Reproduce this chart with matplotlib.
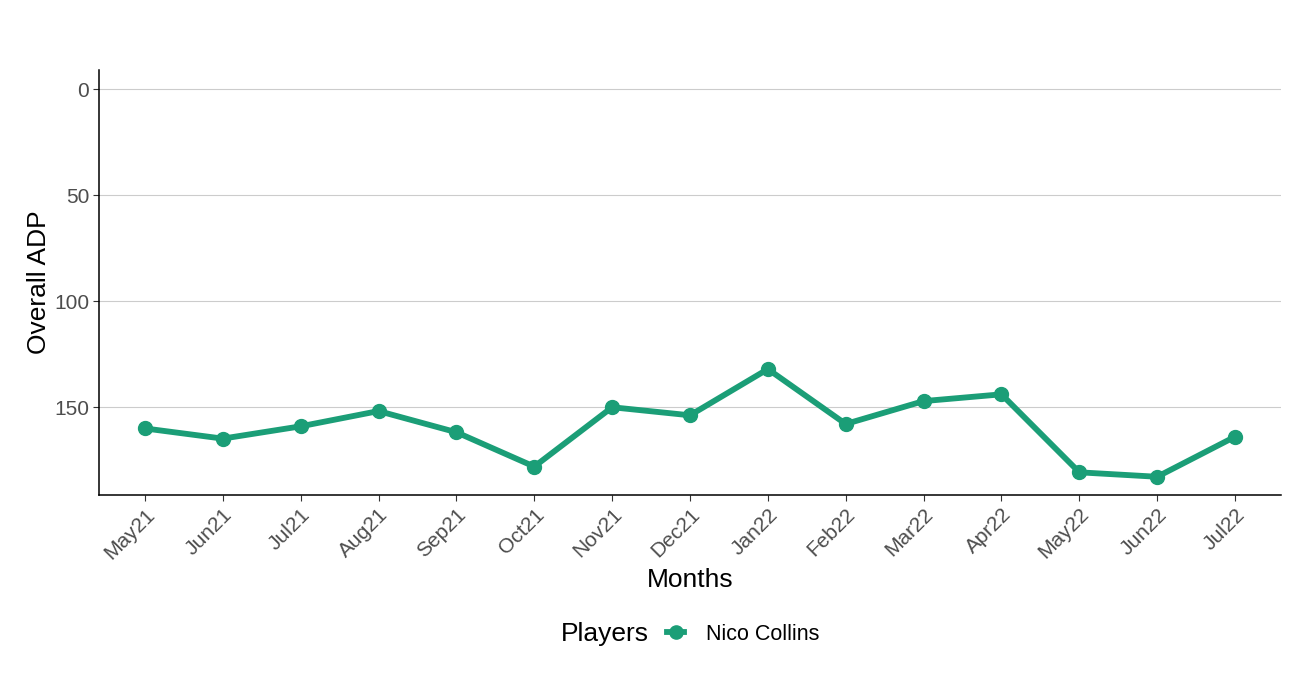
import matplotlib
matplotlib.use("Agg")
import matplotlib.pyplot as plt
import numpy as np

plt.rcParams['font.family'] = ['Liberation Sans', 'DejaVu Sans']

months = ["May21", "Jun21", "Jul21", "Aug21", "Sep21", "Oct21", "Nov21", "Dec21",
          "Jan22", "Feb22", "Mar22", "Apr22", "May22", "Jun22", "Jul22"]
adp = [160.1, 164.9, 159.1, 151.9, 161.9, 178.1, 150.1, 153.9,
       132.1, 158.0, 147.2, 144.0, 180.8, 182.9, 164.0]
player = "Nico Collins"
yticks = [0, 50, 100, 150]

col = "#1B9E77"
tick_col = "#4D4D4D"

fig = plt.figure(figsize=(13.01, 6.93), dpi=100)
ax = fig.add_axes([99 / 1301, 1 - 495 / 693, (1281 - 99) / 1301, (495 - 70) / 693])

x = np.arange(len(months))
line, = ax.plot(x, adp, color=col, lw=4.2, marker="o", ms=10, label=player)

ax.set_xlim(-0.59, len(months) - 1 + 0.59)
ax.set_ylim(191.5, -9)
ax.set_yticks(yticks)
ax.set_xticks(x)
ax.set_xticklabels(months, rotation=45, ha="right", rotation_mode="anchor")

ax.grid(axis="y", color="#CCCCCC", lw=0.8)
ax.set_axisbelow(True)
for s in ["top", "right"]:
    ax.spines[s].set_visible(False)
for s in ["left", "bottom"]:
    ax.spines[s].set_linewidth(1.1)
    ax.spines[s].set_color("black")

ax.tick_params(axis="both", colors="#333333", labelcolor=tick_col, labelsize=15,
               length=4, width=0.8, pad=3)

ax.set_xlabel("Months", fontsize=19, labelpad=4)
ax.set_ylabel("Overall ADP", fontsize=19, labelpad=2)

# legend: title on the left, entry to the right (ggplot bottom style)
fig.text(561 / 1301, 1 - 634 / 693, "Players", fontsize=19, va="center", ha="left")
fig.legend(handles=[line], labels=[player], loc="center left",
           bbox_to_anchor=(667 / 1301, 1 - 634 / 693), frameon=False,
           fontsize=15.5, handlelength=0.8, handletextpad=1.0,
           borderaxespad=0, borderpad=0, markerscale=0.95)

fig.savefig("out.png", dpi=100)
